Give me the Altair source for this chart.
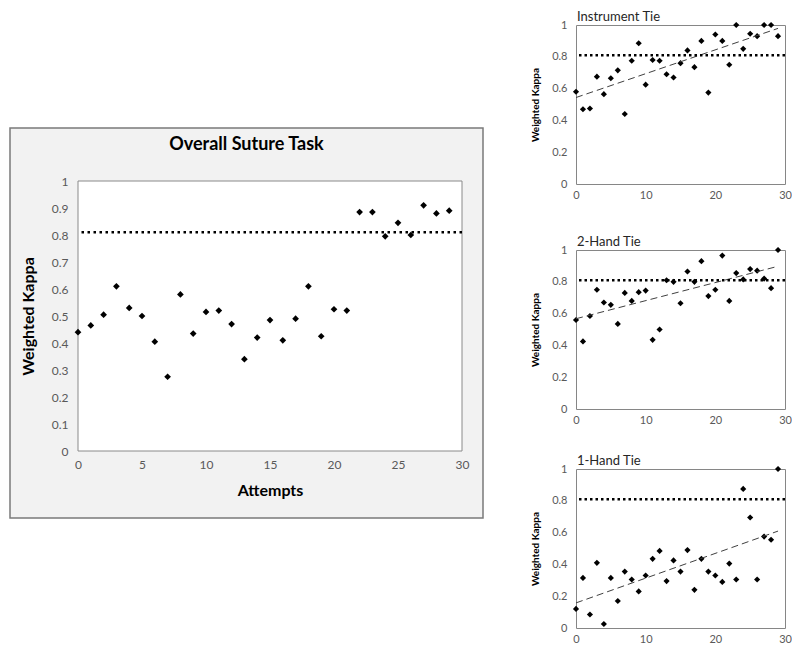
import altair as alt
import pandas as pd

attempts = list(range(30))
overall = [0.44, 0.465, 0.505, 0.61, 0.53, 0.50, 0.405, 0.275, 0.58, 0.435,
           0.515, 0.52, 0.47, 0.34, 0.42, 0.485, 0.41, 0.49, 0.61, 0.425,
           0.525, 0.52, 0.885, 0.885, 0.795, 0.845, 0.80, 0.91, 0.88, 0.89]
instrument = [0.58, 0.47, 0.475, 0.675, 0.565, 0.665, 0.715, 0.44, 0.775, 0.885,
              0.625, 0.78, 0.775, 0.69, 0.67, 0.76, 0.84, 0.735, 0.90, 0.575,
              0.94, 0.90, 0.75, 1.0, 0.85, 0.945, 0.93, 1.0, 1.0, 0.93]
two_hand = [0.56, 0.425, 0.585, 0.75, 0.67, 0.655, 0.535, 0.73, 0.68, 0.735,
            0.745, 0.435, 0.50, 0.81, 0.80, 0.665, 0.865, 0.80, 0.93, 0.71,
            0.75, 0.965, 0.68, 0.855, 0.815, 0.88, 0.87, 0.82, 0.76, 1.0]
one_hand = [0.12, 0.315, 0.085, 0.41, 0.025, 0.315, 0.17, 0.355, 0.305, 0.23,
            0.33, 0.435, 0.485, 0.295, 0.425, 0.355, 0.49, 0.24, 0.435, 0.355,
            0.33, 0.29, 0.405, 0.305, 0.875, 0.695, 0.305, 0.575, 0.555, 1.0]
threshold = 0.81

main_title = "Overall Suture Task"
small_titles = ["Instrument Tie", "2-Hand Tie", "1-Hand Tie"]
y_title = "Weighted Kappa"
x_title = "Attempts"
main_x_ticks = [0, 5, 10, 15, 20, 25, 30]
main_y_ticks = [0, 0.1, 0.2, 0.3, 0.4, 0.5, 0.6, 0.7, 0.8, 0.9, 1]
small_x_ticks = [0, 10, 20, 30]
small_y_ticks = [0, 0.2, 0.4, 0.6, 0.8, 1]

FONT = "Lato"
LABEL_COLOR = "#595959"

one = pd.DataFrame({"a": [0]})
thr_df = pd.DataFrame({"kappa": [threshold]})

# ---------------- main chart ----------------
MW, MH = 384, 270
OFF = 156                 # vertical offset of the main plot below the top of the row
MTOT = MH + OFF
main_df = pd.DataFrame({"attempt": attempts, "kappa": overall})

frame = alt.Chart(one).mark_rect(fill="#f2f2f2", stroke="#7a7a7a", strokeWidth=1.5).encode(
    x=alt.value(-68), x2=alt.value(405), y=alt.value(OFF - 53), y2=alt.value(MTOT + 67))
plotbg = alt.Chart(one).mark_rect(fill="white", stroke="#8a8a8a", strokeWidth=1).encode(
    x=alt.value(0), x2=alt.value(MW), y=alt.value(OFF), y2=alt.value(MTOT))
title_txt = alt.Chart(one).mark_text(fontSize=18, fontWeight="bold", font=FONT,
                                     color="black", baseline="middle", align="center").encode(
    x=alt.value(168.5), y=alt.value(OFF - 36), text=alt.value(main_title))

xs_main = alt.X("attempt:Q", scale=alt.Scale(domain=[0, 30], nice=False),
                axis=alt.Axis(values=main_x_ticks, grid=False, ticks=False, domain=False,
                              labelFontSize=12, labelColor=LABEL_COLOR, labelFont=FONT,
                              labelPadding=8, labelFlush=False, labelOverlap=False,
                              title=x_title, titleFont=FONT,
                              titleFontSize=16, titleFontWeight="bold", titleColor="black",
                              titlePadding=12, zindex=1))
ys_main = alt.Y("kappa:Q", scale=alt.Scale(domain=[0, 1], nice=False, range=[MTOT, OFF]),
                axis=alt.Axis(values=main_y_ticks, format="~g", grid=False, ticks=False,
                              domain=False, labelFontSize=12, labelColor=LABEL_COLOR,
                              labelFont=FONT, labelPadding=10, labelFlush=False,
                              labelOverlap=False, title=y_title,
                              titleFont=FONT, titleFontSize=16, titleFontWeight="bold",
                              titleColor="black", titlePadding=15, zindex=1))

main_pts = alt.Chart(main_df).mark_point(shape="diamond", filled=True, color="black",
                                         size=45, opacity=1).encode(x=xs_main, y=ys_main)
main_rule = alt.Chart(thr_df).mark_rule(color="black", strokeDash=[2.5, 3.5],
                                        strokeWidth=2.5).encode(y=ys_main)

main = alt.layer(frame, plotbg, title_txt, main_pts, main_rule).properties(
    width=MW, height=MTOT, view=alt.ViewBackground(stroke="transparent"))

# ---------------- small charts ----------------
SW, SH = 209, 159


def small(values, title, extra_bottom=0):
    df = pd.DataFrame({"attempt": attempts, "kappa": values})
    xs = alt.X("attempt:Q", scale=alt.Scale(domain=[0, 30], nice=False),
               axis=alt.Axis(values=small_x_ticks, grid=False, ticks=False, domain=False,
                             labelFontSize=11, labelColor=LABEL_COLOR, labelFont=FONT,
                             labelPadding=5, labelFlush=False, labelOverlap=False,
                             title=None))
    ys = alt.Y("kappa:Q", scale=alt.Scale(domain=[0, 1], nice=False),
               axis=alt.Axis(values=small_y_ticks, format="~g", grid=False, ticks=False,
                             domain=False, labelFontSize=11, labelColor=LABEL_COLOR,
                             labelFont=FONT, labelPadding=9, labelFlush=False,
                             labelOverlap=False, title=y_title,
                             titleFont=FONT, titleFontSize=10, titleFontWeight="bold",
                             titleColor="black", titlePadding=11))
    base = alt.Chart(df)
    pts = base.mark_point(shape="diamond", filled=True, color="black", size=38,
                          opacity=1).encode(x=xs, y=ys)
    trend = base.transform_regression("attempt", "kappa").mark_line(
        color="#404040", strokeDash=[7, 4], strokeWidth=1).encode(x=xs, y=ys)
    rule = alt.Chart(thr_df).mark_rule(color="black", strokeDash=[2.5, 3],
                                       strokeWidth=2.5).encode(y=ys)
    ttl = alt.Chart(one).mark_text(align="left", baseline="alphabetic", fontSize=13,
                                   font=FONT, color="#262626").encode(
        x=alt.value(1), y=alt.value(-4), text=alt.value(title))
    layers = [pts, trend, rule, ttl]
    if extra_bottom:
        layers.append(alt.Chart(one).mark_rect(opacity=0).encode(
            x=alt.value(0), x2=alt.value(1), y=alt.value(SH + extra_bottom - 1),
            y2=alt.value(SH + extra_bottom)))
    return alt.layer(*layers).properties(
        width=SW, height=SH,
        view=alt.ViewBackground(stroke="#868686", fill="white"))


right = alt.concat(small(instrument, small_titles[0], extra_bottom=22),
                   small(two_hand, small_titles[1]),
                   small(one_hand, small_titles[2]), columns=1, spacing=28, align="each")

chart = alt.hconcat(main, right, spacing=45).properties(
    padding={"left": 0, "top": 2, "right": 0, "bottom": 0})

chart.save("out.html", embed_options={"renderer": "svg", "actions": False})
